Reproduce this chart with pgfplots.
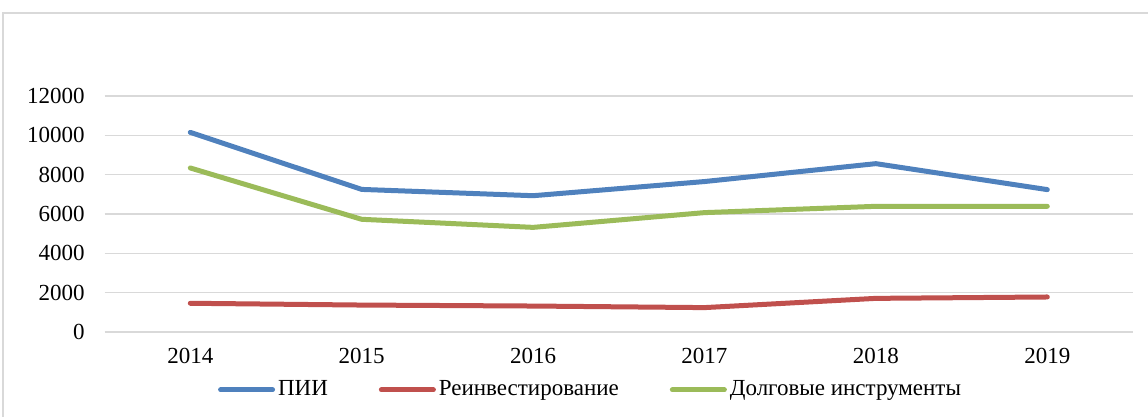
\documentclass[border=0pt]{standalone}
\usepackage{pgfplots}
\pgfplotsset{compat=1.18}
\usepackage{fontspec}
\setmainfont{Liberation Serif}
\definecolor{cblue}{HTML}{4F81BD}
\definecolor{cred}{HTML}{C0504D}
\definecolor{cgreen}{HTML}{9BBB59}
\definecolor{cgrid}{HTML}{D9D9D9}
\begin{document}
\fontsize{11.5}{13}\selectfont
\begin{tikzpicture}
\useasboundingbox (0,0) rectangle (574pt,208.5pt);
\draw[cgrid, line width=0.75pt] (1.5pt,-20pt) rectangle (600pt,202pt);
\begin{axis}[
  scale only axis,
  width=514.2pt, height=118pt,
  at={(52.3pt,42.5pt)}, anchor=south west,
  xmin=-0.5, xmax=5.5,
  ymin=0, ymax=12000,
  ytick={0,2000,4000,6000,8000,10000,12000},
  xtick={0,1,2,3,4,5},
  xticklabels={2014,2015,2016,2017,2018,2019},
  /pgf/number format/assume math mode=true,
  /pgf/number format/1000 sep={},
  scaled y ticks=false,
  ymajorgrids,
  major grid style={cgrid, line width=0.75pt},
  axis line style={draw=none},
  major tick length=0pt,
  tick style={draw=none},
  tick label style={font=\fontsize{11.5}{13}\selectfont},
  yticklabel style={xshift=-6pt},
  xticklabel style={yshift=-4pt},
  clip=false,
  legend columns=3,
  legend style={draw=none, fill=none, at={(0.473,-0.245)}, anchor=center,
    font=\fontsize{11.5}{13}\selectfont,
    nodes={inner xsep=1.5pt},
    /tikz/every even column/.append style={column sep=24pt}},
  legend image code/.code={\draw[#1, line cap=round] (0pt,0pt) -- (26pt,0pt);},
  every axis plot/.append style={line width=2.5pt, line cap=round, line join=round, mark=none},
]
\addplot[cblue] coordinates {(0,10150) (1,7250) (2,6930) (3,7650) (4,8560) (5,7240)};
\addlegendentry{ПИИ}
\addplot[cred] coordinates {(0,1460) (1,1370) (2,1320) (3,1240) (4,1710) (5,1780)};
\addlegendentry{Реинвестирование}
\addplot[cgreen] coordinates {(0,8340) (1,5730) (2,5320) (3,6070) (4,6390) (5,6390)};
\addlegendentry{Долговые инструменты}
\end{axis}
\end{tikzpicture}
\end{document}
